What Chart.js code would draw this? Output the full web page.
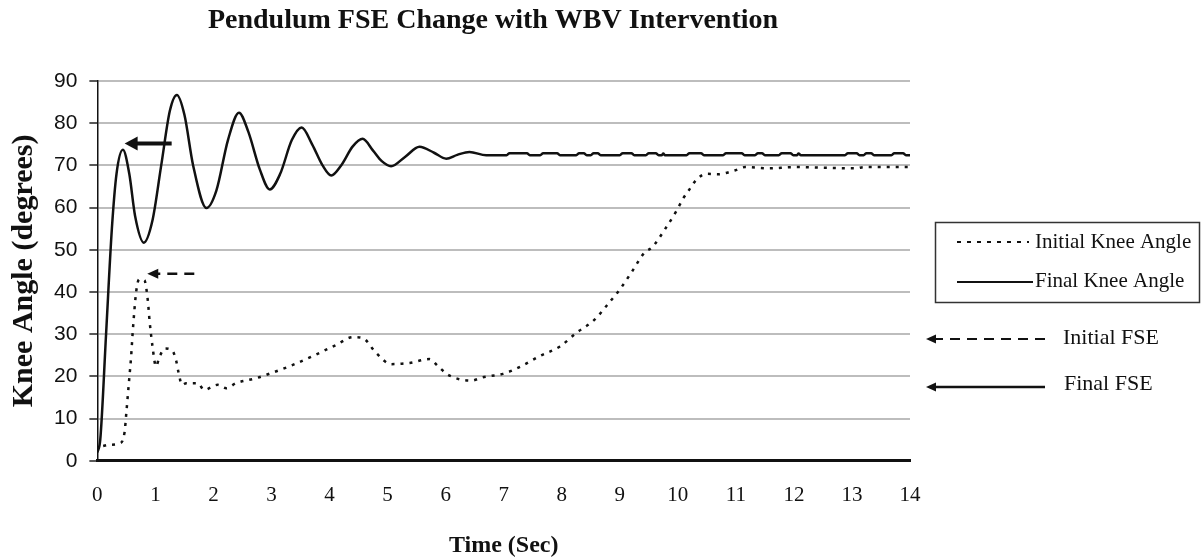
<!DOCTYPE html>
<html>
<head>
<meta charset="utf-8">
<title>Pendulum FSE Change with WBV Intervention</title>
<script src="https://cdn.jsdelivr.net/npm/chart.js@4.4.1/dist/chart.umd.min.js"></script>
<style>
  html, body { margin: 0; padding: 0; background: #fff; }
  #wrap { position: relative; width: 1202px; height: 558px; }
</style>
</head>
<body>
<div id="wrap"><canvas id="chart" width="1202" height="558"></canvas></div>
<script>
// values (time in seconds, knee angle in degrees)
const finalTime = [0, 0.05, 0.15, 0.25, 0.33, 0.44, 0.55, 0.65, 0.8, 0.95, 1.1, 1.25, 1.37, 1.5, 1.65, 1.88,
  2.05, 2.25, 2.44, 2.6, 2.8, 2.97, 3.15, 3.35, 3.52, 3.7, 3.88, 4.03, 4.2, 4.4, 4.57, 4.75, 4.9, 5.06,
  5.3, 5.55, 5.8, 6.01, 6.2, 6.41, 6.7, 7.05, 7.1, 7.4, 7.45, 7.63, 7.68, 7.92, 7.97, 8.25, 8.3, 8.38,
  8.43, 8.5, 8.55, 8.62, 8.67, 9.0, 9.05, 9.2, 9.25, 9.45, 9.5, 9.62, 9.67, 9.72, 9.75, 9.78, 10.15,
  10.2, 10.4, 10.45, 10.78, 10.83, 11.1, 11.15, 11.33, 11.38, 11.45, 11.5, 11.74, 11.79, 11.94, 11.99,
  12.05, 12.08, 12.12, 12.88, 12.93, 13.08, 13.13, 13.2, 13.25, 13.33, 13.38, 13.68, 13.73, 13.88, 13.93, 14];
const finalAngle = [2, 5, 30, 55, 68, 73.7, 68, 58, 51.7, 57, 70, 83, 86.7, 82, 70, 59.9,
  64, 76, 82.5, 78, 69, 64.3, 68, 76, 79.0, 75, 70, 67.6, 70, 74.5, 76.3, 73.5, 71, 69.8,
  72, 74.4, 73, 71.6, 72.5, 73.2, 72.4, 72.4, 72.9, 72.9, 72.4, 72.4, 72.9, 72.9, 72.4, 72.4, 72.9, 72.9,
  72.4, 72.4, 72.9, 72.9, 72.4, 72.4, 72.9, 72.9, 72.4, 72.4, 72.9, 72.9, 72.4, 72.4, 72.8, 72.4, 72.4,
  72.9, 72.9, 72.4, 72.4, 72.9, 72.9, 72.4, 72.4, 72.9, 72.9, 72.4, 72.4, 72.9, 72.9, 72.4,
  72.4, 72.8, 72.4, 72.4, 72.9, 72.9, 72.4, 72.4, 72.9, 72.9, 72.4, 72.4, 72.9, 72.9, 72.4, 72.4];

const initialTime = [0.1, 0.2, 0.4, 0.47, 0.5, 0.55, 0.58, 0.61, 0.67, 0.72, 0.81, 0.87, 0.9, 0.95, 1.01,
  1.07, 1.16, 1.29, 1.36, 1.4, 1.46, 1.53, 1.73, 1.84, 2.07, 2.22, 2.39, 2.74, 3.0, 3.31, 3.77, 4.12,
  4.4, 4.57, 4.8, 5.06, 5.38, 5.72, 5.87, 6.04, 6.44, 6.64, 6.99, 7.3, 7.62, 7.97, 8.25, 8.57, 8.77,
  9.0, 9.2, 9.43, 9.55, 9.78, 9.98, 10.09, 10.21, 10.32, 10.49, 10.69, 10.98, 11.16, 11.56, 12.0,
  13.08, 13.2, 14.0];
const initialAngle = [3.5, 3.8, 4.2, 6.9, 11.5, 19.6, 24.4, 30.7, 40.2, 43.0, 42.8, 37.9, 33.1, 27.1, 22.4,
  24.6, 26.6, 26.1, 23.6, 20.8, 18.0, 18.4, 18.4, 16.8, 18.0, 17.2, 18.4, 19.6, 20.8, 22.4, 25.2, 27.5,
  29.3, 29.1, 25.6, 22.9, 23.2, 24.1, 22.4, 20.4, 19.0, 19.8, 20.6, 22.4, 24.8, 27.1, 30.3, 33.5, 36.7,
  40.6, 44.6, 49.4, 50.5, 54.9, 59.3, 62.1, 64.5, 66.6, 68.0, 67.9, 68.8, 69.6, 69.3, 69.6,
  69.3, 69.6, 69.6];

const chartTitle = 'Pendulum FSE Change with WBV Intervention';
const seriesNames = ['Initial Knee Angle', 'Final Knee Angle'];
const fseNames = ['Initial FSE', 'Final FSE'];

// FSE markers inside the plot: [fromTime, toTime, angle]
const finalFseArrow = [1.28, 0.47, 75.2];
const initialFseArrow = [1.67, 0.86, 44.3];

const ink = '#111';
const serif = '"Liberation Serif", "Times New Roman", serif';

function toPoints(xs, ys) {
  return xs.map((x, i) => ({ x: x, y: ys[i] }));
}

function arrow(ctx, x1, y1, x2, y2, width, dash, headLen, headHalf) {
  ctx.save();
  ctx.strokeStyle = ink;
  ctx.fillStyle = ink;
  ctx.lineWidth = width;
  ctx.setLineDash(dash);
  ctx.beginPath();
  ctx.moveTo(x1, y1);
  ctx.lineTo(x2 + headLen - 1, y2);
  ctx.stroke();
  ctx.setLineDash([]);
  ctx.beginPath();
  ctx.moveTo(x2, y2);
  ctx.lineTo(x2 + headLen, y2 - headHalf);
  ctx.lineTo(x2 + headLen, y2 + headHalf);
  ctx.closePath();
  ctx.fill();
  ctx.restore();
}

const overlay = {
  id: 'overlay',
  afterDraw(chart) {
    const ctx = chart.ctx;
    const xs = chart.scales.x, ys = chart.scales.y;

    // title sits a bit left of the plot centre in the original
    ctx.save();
    ctx.fillStyle = ink;
    ctx.font = 'bold 28px ' + serif;
    ctx.textAlign = 'center';
    ctx.textBaseline = 'middle';
    ctx.fillText(chartTitle, 493, 21);
    ctx.restore();

    // arrows pointing at the FSE peaks
    arrow(ctx, xs.getPixelForValue(finalFseArrow[0]), ys.getPixelForValue(finalFseArrow[2]),
      xs.getPixelForValue(finalFseArrow[1]), ys.getPixelForValue(finalFseArrow[2]), 4, [], 13, 7);
    arrow(ctx, xs.getPixelForValue(initialFseArrow[0]), ys.getPixelForValue(initialFseArrow[2]),
      xs.getPixelForValue(initialFseArrow[1]), ys.getPixelForValue(initialFseArrow[2]), 2.5, [10, 7], 11, 5);

    // legend box
    ctx.save();
    ctx.strokeStyle = '#333';
    ctx.lineWidth = 1.5;
    ctx.strokeRect(935.5, 222.5, 264, 80);

    ctx.strokeStyle = ink;
    ctx.lineWidth = 2;
    ctx.setLineDash([4, 6]);
    ctx.beginPath();
    ctx.moveTo(957, 242);
    ctx.lineTo(1029, 242);
    ctx.stroke();
    ctx.setLineDash([]);
    ctx.lineWidth = 2;
    ctx.beginPath();
    ctx.moveTo(957, 282);
    ctx.lineTo(1033, 282);
    ctx.stroke();

    ctx.fillStyle = ink;
    ctx.font = '21px ' + serif;
    ctx.textBaseline = 'middle';
    ctx.textAlign = 'left';
    ctx.fillText(seriesNames[0], 1035, 242);
    ctx.fillText(seriesNames[1], 1035, 281);
    ctx.restore();

    // FSE key
    arrow(ctx, 1045, 339, 926, 339, 2, [10, 7], 10, 4.5);
    arrow(ctx, 1045, 387, 926, 387, 2.5, [], 10, 4.5);
    ctx.save();
    ctx.fillStyle = ink;
    ctx.font = '22px ' + serif;
    ctx.textBaseline = 'middle';
    ctx.fillText(fseNames[0], 1063, 338);
    ctx.fillText(fseNames[1], 1064, 384);
    ctx.restore();
  }
};

new Chart(document.getElementById('chart'), {
  type: 'scatter',
  data: {
    datasets: [
      {
        label: seriesNames[0],
        data: toPoints(initialTime, initialAngle),
        showLine: true,
        borderColor: ink,
        borderWidth: 2.5,
        borderDash: [3, 6],
        cubicInterpolationMode: 'monotone',
        pointRadius: 0
      },
      {
        label: seriesNames[1],
        data: toPoints(finalTime, finalAngle),
        showLine: true,
        borderColor: ink,
        borderWidth: 2.5,
        cubicInterpolationMode: 'monotone',
        pointRadius: 0
      }
    ]
  },
  options: {
    responsive: false,
    animation: false,
    events: [],
    layout: { padding: { left: 0, right: 292, top: 81, bottom: 0 } },
    plugins: {
      legend: { display: false },
      tooltip: { enabled: false },
      title: { display: false }
    },
    scales: {
      x: {
        type: 'linear',
        min: 0,
        max: 14,
        ticks: {
          stepSize: 1,
          padding: 22,
          color: ink,
          font: { family: serif, size: 21 }
        },
        grid: { display: false, drawTicks: false },
        border: { display: true, color: ink, width: 3 },
        title: {
          display: true,
          text: 'Time (Sec)',
          color: ink,
          font: { family: serif, size: 24, weight: 'bold', lineHeight: 1 },
          padding: { top: 4, bottom: 0 }
        }
      },
      y: {
        min: 0,
        max: 90,
        ticks: {
          stepSize: 10,
          padding: 12,
          color: ink,
          font: { family: '"Liberation Sans", Arial, sans-serif', size: 21 }
        },
        grid: { color: '#bdbdbd', lineWidth: 2, tickLength: 8, tickColor: '#222', tickWidth: 1.5 },
        border: { display: true, color: ink, width: 1.5 },
        title: {
          display: true,
          text: 'Knee Angle (degrees)',
          color: ink,
          font: { family: serif, size: 30, weight: 'bold' },
          padding: { top: 6, bottom: 0 }
        }
      }
    }
  },
  plugins: [overlay]
});
</script>
</body>
</html>
